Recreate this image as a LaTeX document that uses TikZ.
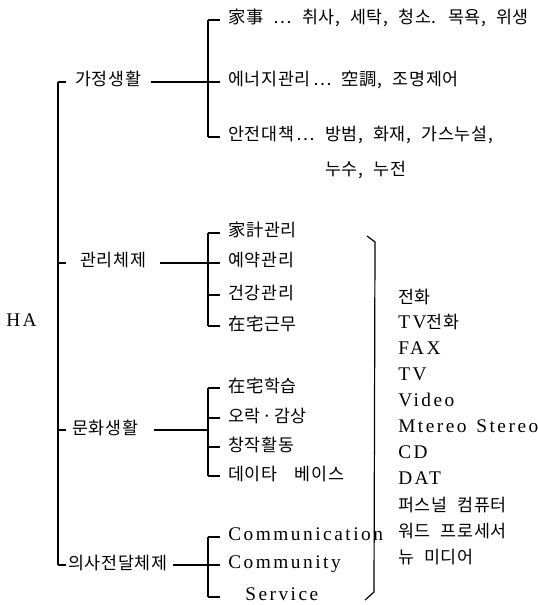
\documentclass[tikz,border=0pt]{standalone}
\usepackage{fontspec}
\setmainfont{Liberation Serif}[LetterSpace=13]
\newfontfamily\kr{Noto Sans CJK KR}[LetterSpace=4, WordSpace=2.2]
\usetikzlibrary{calc}
\newcommand{\krfont}{\kr\fontsize{13}{15}\selectfont}
\begin{document}
\begin{tikzpicture}[x=0.75pt,y=-0.75pt,
  kor/.style={anchor=west, inner sep=0pt, text height=0.8em, text depth=0.2em, font=\krfont},
  lat/.style={anchor=west, inner sep=0pt, text height=0.75em, text depth=0.25em, font=\fontsize{14.5}{16}\selectfont},
  ln/.style={line width=0.9pt, black}]
\useasboundingbox (0,0) rectangle (537,605);
% spine and bracket columns
\coordinate (spT) at (58,82);
\coordinate (spB) at (58,565);
\coordinate (bx) at (208,0);
% root
\node[lat] (ha) at (6,323) {HA};
% level 1
\node[kor] (g) at (75,82) {가정생활};
\node[kor] (k) at (80,263) {관리체제};
\node[kor] (m) at (72,430) {문화생활};
\node[kor] (u) at (68,565) {의사전달체제};
% level 2: 가정생활
\node[kor] (g1) at (228,20) {家事 ⋯ 취사, 세탁, 청소. 목욕, 위생};
\node[kor] (g2) at (228,82) {에너지관리\hspace{0.15em}⋯ 空調, 조명제어};
\node[kor] (g3) at (228,137) {안전대책\hspace{0.15em}⋯ 방범, 화재, 가스누설,};
\node[kor] (g4) at (325,172) {누수, 누전};
% 관리체제
\node[kor] (k1) at (228,233) {家計관리};
\node[kor] (k2) at (228,263) {예약관리};
\node[kor] (k3) at (228,295) {건강관리};
\node[kor] (k4) at (228,326) {在宅근무};
% 문화생활
\node[kor] (m1) at (228,388) {在宅학습};
\node[kor] (m2) at (228,418) {오락\hspace{0.1em}·\hspace{0.1em}감상};
\node[kor] (m3) at (228,447) {창작활동};
\node[kor] (m4) at (228,476) {데이타\hspace{1em}베이스};
% 의사전달체제
\node[lat] (u1) at (228,537) {Communication};
\node[lat] (u2) at (228,565) {Community};
\node[lat] (u3) at (245,597) {Service};
% right list
\node[kor] (r1) at (398,299) {전화};
\node[lat] (r2) at (398,325) {TV{\krfont 전화}};
\node[lat] (r3) at (398,351) {FAX};
\node[lat] (r4) at (398,377) {TV};
\node[lat] (r5) at (398,403) {Video};
\node[lat] (r6) at (398,429) {Mtereo\hspace{0.5em}Stereo};
\node[lat] (r7) at (398,455) {CD};
\node[lat] (r8) at (398,481) {DAT};
\node[kor] (r9) at (398,507) {퍼스널 컴퓨터};
\node[kor] (r10) at (398,533) {워드 프로세서};
\node[kor] (r11) at (398,559) {뉴 미디어};
% spine
\draw[ln] (spT) -- (spB);
\foreach \n in {g,k,m,u} \draw[ln] (\n.west -| spT) -- ++(8,0);
% level-1 to brackets
\draw[ln] ([xshift=7pt]g.east) -- (g.east -| bx);
\draw[ln] ([xshift=10pt]k.east) -- (k.east -| bx);
\draw[ln] ([xshift=12pt]m.east) -- (m.east -| bx);
\draw[ln] ([xshift=4pt]u.east) -- (u.east -| bx);
% brackets
\draw[ln] (g1.west -| bx) -- (g3.west -| bx);
\draw[ln] (k1.west -| bx) -- (k4.west -| bx);
\draw[ln] (m1.west -| bx) -- (m4.west -| bx);
\draw[ln] (u1.west -| bx) -- (u3.west -| bx);
\foreach \n in {g1,g2,g3,k1,k2,k3,k4,m1,m2,m3,m4,u1,u2,u3}
  \draw[ln] (\n.west -| bx) -- ++(12,0);
% right bracket
\draw[ln] (367,236) -- (375,242) -- (374,592) -- (365,600);
\end{tikzpicture}
\end{document}
